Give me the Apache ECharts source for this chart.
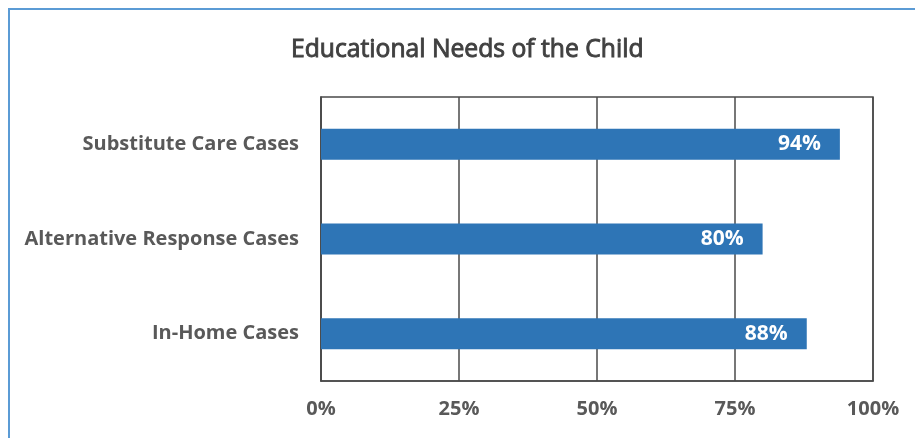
<!DOCTYPE html>
<html>
<head>
<meta charset="utf-8">
<script src="https://cdn.jsdelivr.net/npm/echarts@6/dist/echarts.min.js"></script>
<style>
  html, body { margin: 0; padding: 0; background: #fff; }
  #chart { width: 915px; height: 438px; }
</style>
</head>
<body>
<div id="chart"></div>
<script>
// Share of cases where the child's educational needs were addressed
const categories = ['In-Home Cases', 'Alternative Response Cases', 'Substitute Care Cases'];
const values = [88, 80, 94];
const tickLabels = ['0%', '25%', '50%', '75%', '100%'];

const FONT = '"Open Sans"';
const chart = echarts.init(document.getElementById('chart'), null, { renderer: 'canvas' });

chart.setOption({
  backgroundColor: '#ffffff',
  animation: false,
  title: {
    text: 'Educational Needs of the Child',
    left: 286,
    top: 32,
    textStyle: {
      fontFamily: FONT, fontSize: 24.7, fontWeight: 'normal', color: '#404040',
      textBorderColor: '#404040', textBorderWidth: 0.9
    }
  },
  graphic: [{
    type: 'rect',
    shape: { x: 9, y: 9, width: 920, height: 440 },
    style: { fill: 'none', stroke: '#5b9bd5', lineWidth: 2 },
    silent: true
  }],
  grid: {
    left: 321, right: 42, top: 97, bottom: 57,
    show: true, borderColor: '#4a4a4a', borderWidth: 1.5, backgroundColor: 'transparent'
  },
  xAxis: {
    type: 'value',
    min: 0, max: 100, interval: 25,
    axisLine: { show: true, lineStyle: { color: '#4a4a4a', width: 1.5 } },
    axisTick: { show: false },
    splitLine: { show: true, lineStyle: { color: '#4a4a4a', width: 1.5 } },
    axisLabel: {
      margin: 18,
      fontFamily: FONT, fontSize: 20, fontWeight: 'bold', color: '#595959',
      formatter: v => tickLabels[Math.round(v / 25)]
    }
  },
  yAxis: {
    type: 'category',
    data: categories,
    axisLine: { show: true, lineStyle: { color: '#4a4a4a', width: 1.5 } },
    axisTick: { show: false },
    axisLabel: {
      margin: 22,
      fontFamily: FONT, fontSize: 20, fontWeight: 'bold', color: '#595959'
    }
  },
  series: [{
    type: 'bar',
    data: values,
    barWidth: 31,
    itemStyle: { color: '#2e75b6' },
    label: {
      show: true,
      position: 'insideRight',
      distance: 19,
      formatter: p => p.value + '%',
      fontFamily: FONT, fontSize: 21, fontWeight: 'bold', color: '#ffffff'
    }
  }]
});
</script>
</body>
</html>
